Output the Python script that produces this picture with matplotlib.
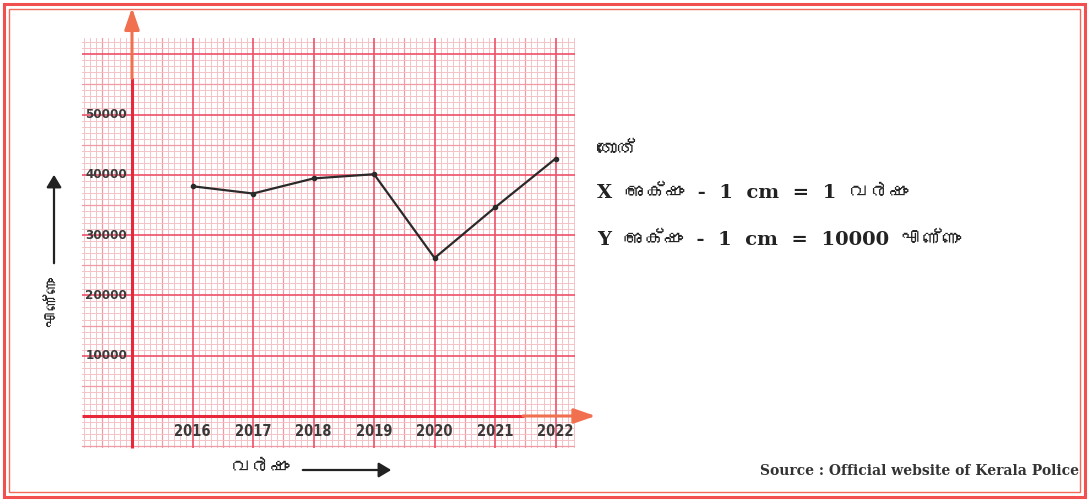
import numpy as np
import matplotlib
matplotlib.use("Agg")
import matplotlib.pyplot as plt
from matplotlib import font_manager
from matplotlib.ft2font import FT2Font
from matplotlib.patches import Rectangle, FancyArrowPatch

# ---------------- data ----------------
years = [2016, 2017, 2018, 2019, 2020, 2021, 2022]
counts = [38100, 36900, 39400, 40100, 26200, 34600, 42700]
y_ticks = [10000, 20000, 30000, 40000, 50000]
y_tick_labels = ["10000", "20000", "30000", "40000", "50000"]
x_tick_labels = ["2016", "2017", "2018", "2019", "2020", "2021", "2022"]
y_axis_label = "എണ്ണം"
x_axis_label = "വർഷം"
scale_title = "തോത്"
scale_x = "X  അക്ഷം  -  1  cm  =  1  വർഷം"
scale_y = "Y  അക്ഷം  -  1  cm  =  10000  എണ്ണം"
source_text = "Source : Official website of Kerala Police"

# ---------------- fonts ----------------
def find_font_with(ch):
    for f in font_manager.fontManager.ttflist:
        try:
            ft = FT2Font(f.fname)
            if ft.get_char_index(ord(ch)):
                return f.name
        except Exception:
            pass
    return None

ml_font = find_font_with("അ")

def fam(base):
    return [base, ml_font] if ml_font else [base]

# ---------------- figure ----------------
W, H = 1089, 500
fig = plt.figure(figsize=(W / 100, H / 100), dpi=100)
fig.patch.set_facecolor("white")

# double frame
fig.add_artist(Rectangle((4 / W, 3 / H), (W - 8) / W, (H - 7) / H, transform=fig.transFigure,
                         fill=False, edgecolor="#f2504f", lw=2.2))
fig.add_artist(Rectangle((9 / W, 8 / H), (W - 18) / W, (H - 17) / H, transform=fig.transFigure,
                         fill=False, edgecolor="#f26a5a", lw=1.0))

gl, gr, gt, gb = 82, 575, 38, 448
ax = fig.add_axes([gl / W, (H - gb) / H, (gr - gl) / W, (gb - gt) / H])
ax.set_xlim(2014.174, 2022.32)
ax.set_ylim(-5307, 62690)
ax.axis("off")

x0, x1 = ax.get_xlim()
y0, y1 = ax.get_ylim()

# graph paper grid
for v in np.arange(2014.2, 2022.35, 0.1):
    r = round(v * 10) % 10
    if r == 0:
        continue
    c, lw = ("#f09aa4", 0.9) if r == 5 else ("#f5bfc3", 0.65)
    ax.axvline(v, color=c, lw=lw, zorder=1)
for v in np.arange(-5000, 62700, 1000):
    r = int(round(v / 1000)) % 10
    if r == 0:
        continue
    c, lw = ("#f09aa4", 0.9) if r == 5 else ("#f5bfc3", 0.65)
    ax.axhline(v, color=c, lw=lw, zorder=1)
for v in range(2015, 2023):
    ax.axvline(v, color="#ee5068", lw=1.2, zorder=2)
for v in range(10000, 62000, 10000):
    ax.axhline(v, color="#ee5068", lw=1.2, zorder=2)

# axes (red inside, orange with arrow head outside)
ax.plot([2015, 2015], [y0, 56050], color="#e8283a", lw=2.2, zorder=3, clip_on=False, solid_capstyle="butt")
ax.annotate("", xy=(2015, 67700), xytext=(2015, 56000), xycoords="data",
            arrowprops=dict(arrowstyle="-|>,head_length=1.3,head_width=0.45", color="#f07050", lw=2.2,
                            shrinkA=0, shrinkB=0), annotation_clip=False, zorder=3)
ax.plot([x0, 2021.48], [0, 0], color="#e8283a", lw=2.2, zorder=3, clip_on=False, solid_capstyle="butt")
ax.annotate("", xy=(2022.66, 0), xytext=(2021.46, 0), xycoords="data",
            arrowprops=dict(arrowstyle="-|>,head_length=1.3,head_width=0.45", color="#f07050", lw=2.2,
                            shrinkA=0, shrinkB=0), annotation_clip=False, zorder=3)

# data line
ax.plot(years, counts, color="#2a2a2a", lw=1.6, marker="o", ms=3, zorder=5, clip_on=False)

# tick labels
for v, lab in zip(y_ticks, y_tick_labels):
    ax.text(2015 - 0.08, v, lab, ha="right", va="center", fontsize=9.5, fontweight="bold",
            family="DejaVu Sans", fontstretch="condensed", color="#3a3a3a", zorder=6)
for v, lab in zip(years, x_tick_labels):
    ax.text(v, -2650, lab, ha="center", va="center", fontsize=10.5, fontweight="bold",
            family="DejaVu Sans", fontstretch="condensed", color="#3a3a3a", zorder=6)

# axis labels with black arrows
fig.text(54 / W, 1 - 302 / H, y_axis_label, rotation=90, ha="center", va="center",
         fontsize=12, family=fam("DejaVu Sans"), color="#222222")
fig.add_artist(FancyArrowPatch((54 / W, 1 - 266 / H), (54 / W, 1 - 172 / H),
               transform=fig.transFigure, arrowstyle="-|>,head_length=5,head_width=3",
               color="#222222", lw=1.6, mutation_scale=1.5))
fig.text(261 / W, 1 - 468 / H, x_axis_label, ha="center", va="center",
         fontsize=14, family=fam("DejaVu Sans"), color="#222222")
fig.add_artist(FancyArrowPatch((300 / W, 1 - 470 / H), (394 / W, 1 - 470 / H),
               transform=fig.transFigure, arrowstyle="-|>,head_length=5,head_width=3",
               color="#222222", lw=1.6, mutation_scale=1.5))

# scale text
for yy, t in [(150, scale_title), (193, scale_x), (240, scale_y)]:
    fig.text(597 / W, 1 - yy / H, t, ha="left", va="center", fontsize=14, fontweight="bold",
             family=fam("DejaVu Serif"), color="#222222")

fig.text(1079 / W, 1 - 471 / H, source_text, ha="right", va="center", fontsize=10,
         fontweight="bold", family="DejaVu Serif", color="#333333")

fig.savefig("out.png", dpi=100, facecolor="white")
